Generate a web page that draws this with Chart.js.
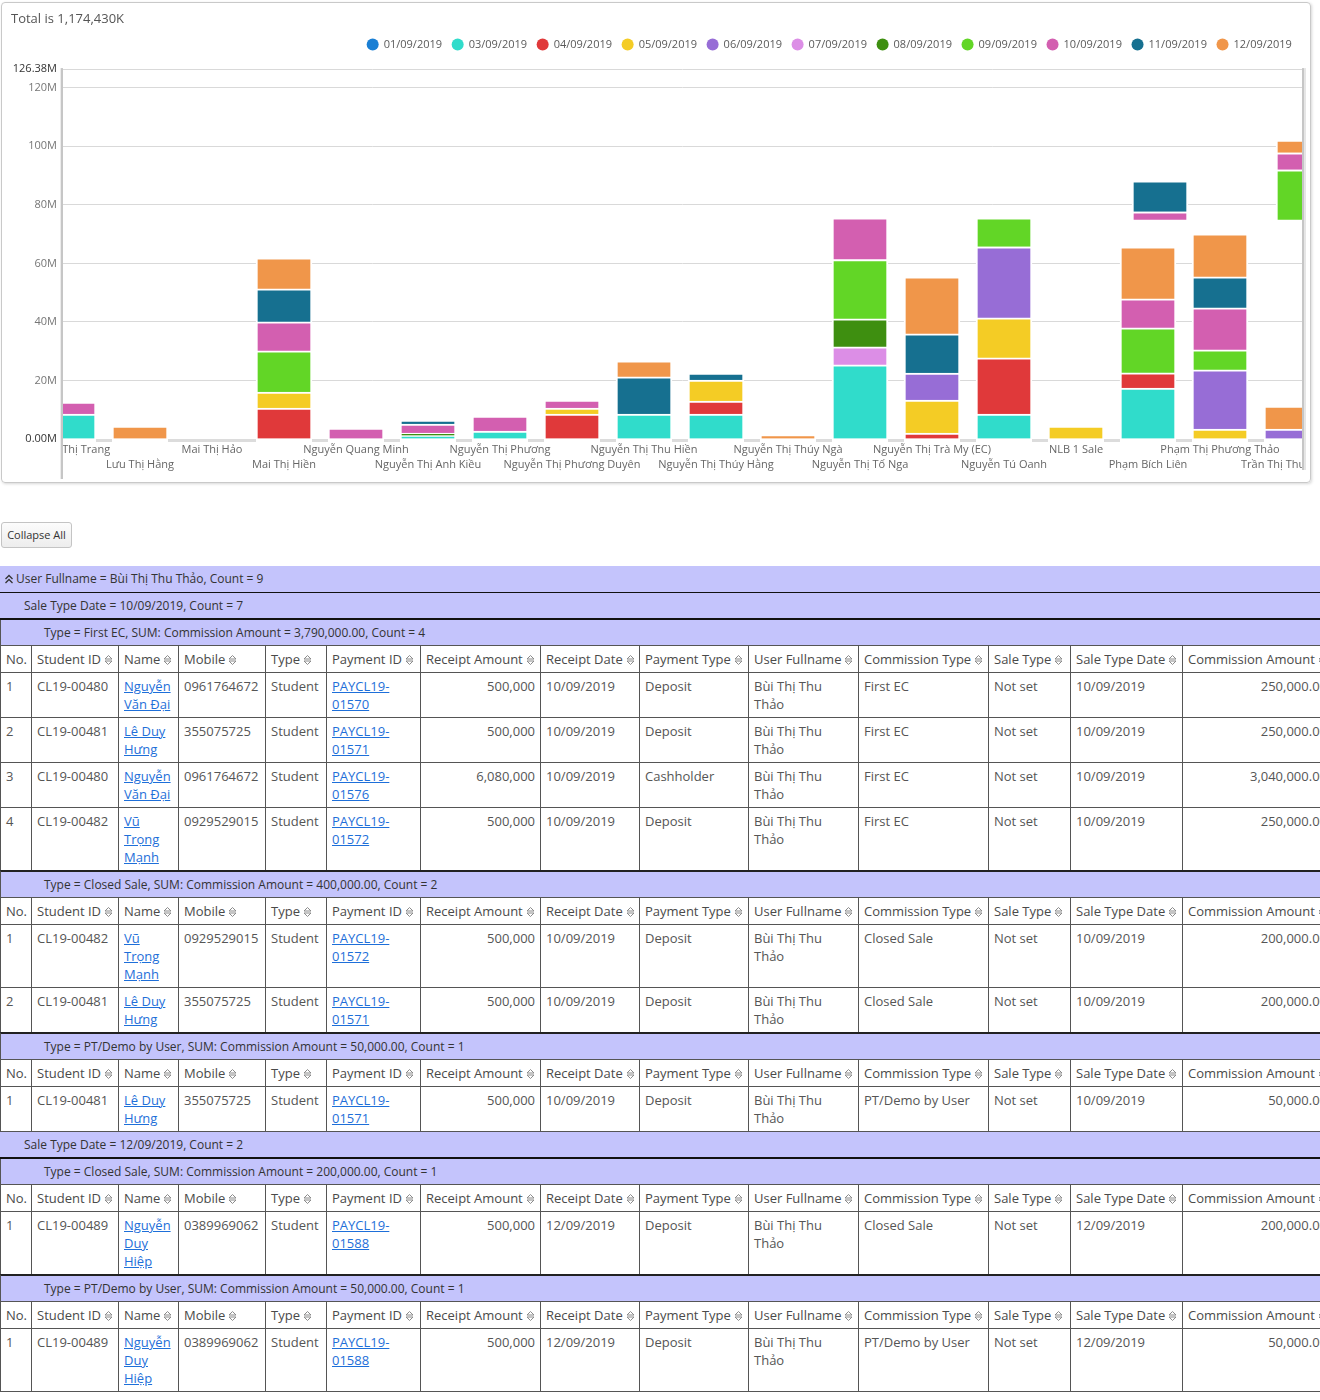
<!DOCTYPE html>
<html>
<head>
<meta charset="utf-8">
<script src="https://cdn.jsdelivr.net/npm/chart.js@4.4.1/dist/chart.umd.min.js"></script>
<style>
html,body{margin:0;padding:0;overflow:hidden;background:#fff}
body{width:1320px;height:1400px;position:relative;font-family:"Open Sans",Arial,sans-serif}
#card{position:absolute;left:1px;top:2px;width:1308px;height:479px;border:1px solid #c9c9c9;border-radius:4px;box-shadow:1px 1px 3px rgba(0,0,0,.16);overflow:hidden}
#card canvas{position:absolute;left:0;top:0}
#btn{position:absolute;left:1px;top:522px;width:69px;height:24px;border:1px solid #c4c4c4;border-radius:3px;background:linear-gradient(#fcfcfc,#ededed);font-size:11px;line-height:24px;color:#333;text-align:center}
#grid{position:absolute;left:0;top:566px;width:1340px}
.gu,.gs,.gt{background:#c4c4fc;color:#333;font-size:12px;white-space:nowrap;box-sizing:border-box}
.gu{height:27px;line-height:26px;border-bottom:1px solid #111;padding-left:4px}
.gs{height:27px;line-height:25px;border-bottom:2px solid #111;padding-left:24px}
.gt{height:25px;line-height:25px;padding-left:43px;border-left:1px solid #555}
.gt.nx{height:27px;line-height:25px;border-top:2px solid #222;margin-top:-1px}
table{border-collapse:collapse;table-layout:fixed;font-size:13px;color:#555}
th,td{border:1px solid #555;padding:4px 5px;line-height:18px;vertical-align:top;text-align:left;overflow:hidden}
th{font-weight:normal;white-space:nowrap;color:#4a4a4a}
td.r{text-align:right;white-space:nowrap}
td a{color:#1e6fd9;text-decoration:underline}
</style>
</head>
<body>
<div id="card"><canvas id="c" width="1308" height="479"></canvas></div>
<div id="btn">Collapse All</div>
<div id="grid"></div>
<script>
// ---------------- chart data ----------------
const categories = [
  'Hoàng Thị Trang', 'Lưu Thị Hằng', 'Mai Thị Hảo', 'Mai Thị Hiền', 'Nguyễn Quang Minh',
  'Nguyễn Thị Anh Kiều', 'Nguyễn Thị Phương', 'Nguyễn Thị Phương Duyên', 'Nguyễn Thị Thu Hiền',
  'Nguyễn Thị Thúy Hằng', 'Nguyễn Thị Thúy Ngà', 'Nguyễn Thị Tố Nga', 'Nguyễn Thị Trà My (EC)',
  'Nguyễn Tú Oanh', 'NLB 1 Sale', 'Phạm Bích Liên', 'Phạm Thị Phương Thảo', 'Trần Thị Thu Hương'
];
const dates = ['01/09/2019','03/09/2019','04/09/2019','05/09/2019','06/09/2019','07/09/2019',
               '08/09/2019','09/09/2019','10/09/2019','11/09/2019','12/09/2019'];
// values in millions
const v0109 = [0,0,0,0,0,0,0,0,0,0,0,0,0,0,0,0,0,0];
const v0309 = [8.55,0,0,0,0,1.13,2.74,0,8.55,8.55,0,25.3,0,8.55,0,17.44,0,0];
const v0409 = [0,0,0,10.6,0,0,0,8.55,0,4.44,0,0,2.05,19.15,0,5.13,0,0];
const v0509 = [0,0,0,5.47,0,0,0,2.05,0,7.18,0,0,11.28,13.68,4.44,0,3.42,0];
const v0609 = [0,0,0,0,0,0,0,0,0,0,0,0,9.23,24.27,0,0,20.17,3.42];
const v0709 = [0,0,0,0,0,0,0,0,0,0,0,6.15,0,0,0,0,0,0];
const v0809 = [0,0,0,0,0,0.92,0,0,0,0,0,9.57,0,0,0,0,0,0];
const v0909 = [0,0,0,14.02,0,0,0,0,0,0,0,20.27,0,9.91,0,15.38,6.84,0];
const v1009 = [4.1,0,0,9.91,3.76,3.08,5.13,2.74,0,0,0,14.26,0,0,0,9.91,14.36,0];
const v1109 = [0,0,0,11.28,0,1.37,0,0,12.65,2.39,0,0,13.33,0,0,0,10.6,0];
const v1209 = [0,4.44,0,10.6,0,0,0,0,5.47,0,1.4,0,19.49,0,0,17.78,14.7,7.86];
const seriesValues = [v0109,v0309,v0409,v0509,v0609,v0709,v0809,v0909,v1009,v1109,v1209];
// stray floating segments seen in the picture (drawn slightly offset)
const ghostBase = [0,0,0,0,0,0,0,0,0,0,0,0,0,0,0,74.87,0,74.87];
const ghost0909 = [0,0,0,0,0,0,0,0,0,0,0,0,0,0,0,0,0,17.1];
const ghost1009 = [0,0,0,0,0,0,0,0,0,0,0,0,0,0,0,2.74,0,5.8];
const ghost1109 = [0,0,0,0,0,0,0,0,0,0,0,0,0,0,0,10.6,0,0];
const ghost1209 = [0,0,0,0,0,0,0,0,0,0,0,0,0,0,0,0,0,4.4];
const yTicks = [0,20,40,60,80,100,120,126.38];
const yMax = 126.38;
const totalText = 'Total is 1,174,430K';

// ---------------- styles ----------------
const colors = ['#1a7fd4','#30dccb','#e0393a','#f4cc25','#976dd6','#dc8ee6','#3e8f10','#62d626','#d35fb0','#167090','#f0964a'];
const viewMin = -0.0694, viewMax = 17.139, ghostShift = 1/6, barThick = 56;

const nz = a => a.map(v => v ? v : null);
const mainSets = dates.map((d, k) => ({
  label: d, data: nz(seriesValues[k]), backgroundColor: colors[k], borderColor: '#fff',
  borderWidth: 2, borderSkipped: 'start', barThickness: barThick, grouped: false,
  xAxisID: 'x', yAxisID: 'y', stack: 'main', clip: 0
}));
const ghostDefs = [[ghostBase,'rgba(0,0,0,0)',0],[ghost0909,colors[7],2],[ghost1009,colors[8],2],[ghost1109,colors[9],2],[ghost1209,colors[10],2]];
const ghostSets = ghostDefs.map(([arr, col, bw], k) => ({
  label: 'g' + k, data: nz(arr), backgroundColor: col, borderColor: '#fff', borderWidth: bw,
  borderSkipped: 'start', barThickness: barThick, grouped: false,
  xAxisID: 'x2', yAxisID: 'y', stack: 'ghost', clip: 0
}));

const clipLabels = {
  id: 'clipLabels',
  afterLayout(chart) {
    const s = chart.scales.x;
    if (s.__clipped) return;
    s.__clipped = true;
    const proto = Object.getPrototypeOf(s);
    s.drawLabels = function (area) {
      const a = chart.chartArea, ctx = this.ctx;
      ctx.save();
      ctx.beginPath();
      ctx.rect(a.left, this.top, a.right - a.left, this.bottom - this.top + 5);
      ctx.clip();
      proto.drawLabels.call(this, area);
      ctx.restore();
    };
  }
};
const paneDecor = {
  id: 'paneDecor',
  afterDatasetsDraw(chart) {
    const {ctx, chartArea: a} = chart;
    const xs = chart.scales.x;
    ctx.save();
    ctx.beginPath(); ctx.rect(a.left, a.bottom, a.right - a.left, 3); ctx.clip();
    ctx.fillStyle = '#dcdcdc';
    ctx.fillRect(a.left, a.bottom, a.right - a.left, 3);
    ctx.fillStyle = '#fff';
    categories.forEach((c, i) => {
      const tot = seriesValues.reduce((s, arr) => s + (arr[i] || 0), 0);
      if (tot > 0) { const px = xs.getPixelForValue(i); ctx.fillRect(px - barThick / 2, a.bottom, barThick, 3); }
    });
    ctx.restore();
  },
  afterDraw(chart) {
    const {ctx, chartArea: a} = chart;
    ctx.save();
    ctx.fillStyle = '#ececec'; ctx.fillRect(a.left - 3, a.top - 1, 1, 477 - a.top);
    ctx.fillStyle = '#c6c6c6'; ctx.fillRect(a.left - 2, a.top - 1, 2, 477 - a.top);
    ctx.fillStyle = '#c6c6c6'; ctx.fillRect(a.right, a.top - 1, 2, 468 - a.top);
    ctx.fillStyle = '#e6e6e6'; ctx.fillRect(a.right + 2, a.top - 1, 2, 468 - a.top);
    ctx.restore();
  }
};

Chart.defaults.font.family = "'Open Sans', sans-serif";
new Chart(document.getElementById('c'), {
  type: 'bar',
  data: { labels: categories.map((_, i) => i), datasets: [...mainSets, ...ghostSets] },
  options: {
    responsive: false, animation: false, events: [],
    layout: { padding: { left: 9, right: 8, top: 0, bottom: 0 } },
    scales: {
      x: {
        type: 'linear', min: viewMin, max: viewMax, stacked: true, offset: false,
        afterBuildTicks: s => { s.ticks = categories.map((_, i) => ({ value: i })); },
        afterFit: s => { s.height = 43; s.paddingLeft = 0; s.paddingRight = 0; },
        grid: { display: false, drawTicks: false }, border: { display: false },
        ticks: {
          autoSkip: false, maxRotation: 0, minRotation: 0, padding: 3, color: '#666',
          font: { size: 11, lineHeight: 15 / 11 },
          callback: v => { const i = Math.round(v); const n = categories[i]; if (n === undefined) return ''; return i % 2 === 0 ? n : ['', n]; }
        }
      },
      x2: { type: 'linear', display: false, min: viewMin - ghostShift, max: viewMax - ghostShift, stacked: true, offset: false },
      y: {
        type: 'linear', min: 0, max: yMax, stacked: true,
        afterBuildTicks: s => { s.ticks = yTicks.map(v => ({ value: v })); },
        afterFit: s => { s.width = 52; },
        grid: { drawTicks: false, color: c => (c.tick && c.tick.value === 0) ? 'rgba(0,0,0,0)' : '#d9d9d9' },
        border: { display: false },
        ticks: {
          autoSkip: false, padding: 6, font: { size: 11 },
          color: c => (c.tick.value === 0 || c.tick.value === yMax) ? '#333' : '#767676',
          callback: v => v === 0 ? '0.00M' : (v === yMax ? v.toFixed(2) + 'M' : v + 'M')
        }
      }
    },
    plugins: {
      tooltip: { enabled: false },
      title: { display: true, text: totalText, align: 'start', color: '#555', font: { size: 13, weight: 'normal' }, padding: { top: 8.2, bottom: 2.2 } },
      legend: {
        position: 'top', align: 'end',
        labels: {
          usePointStyle: true, pointStyle: 'circle', boxWidth: 11, boxHeight: 8.5, padding: 10.1,
          color: '#5a5a5a', font: { size: 11 },
          generateLabels: ch => Chart.defaults.plugins.legend.labels.generateLabels(ch).map(l => Object.assign(l, { lineWidth: 0 })),
          filter: item => item.datasetIndex < dates.length
        }
      },
      subtitle: { display: true, text: ' ', position: 'top', weight: 500, font: { size: 5, lineHeight: 1 }, padding: { top: 4, bottom: 0 } }
    }
  },
  plugins: [clipLabels, paneDecor]
});

// ---------------- grid (table) below the chart ----------------
const headers = ['No.','Student ID','Name','Mobile','Type','Payment ID','Receipt Amount','Receipt Date','Payment Type','User Fullname','Commission Type','Sale Type','Sale Type Date','Commission Amount'];
const colW = [31,87,60,87,61,94,120,99,109,110,130,82,112,150];
const U = 'Bùi Thị Thu Thảo';
const groups = [
  { level: 'u', text: 'User Fullname = Bùi Thị Thu Thảo, Count = 9' },
  { level: 's', text: 'Sale Type Date = 10/09/2019, Count = 7' },
  { level: 't', text: 'Type = First EC, SUM: Commission Amount = 3,790,000.00, Count = 4', rows: [
    ['1','CL19-00480','Nguyễn Văn Đại','0961764672','Student','PAYCL19-01570','500,000','10/09/2019','Deposit',U,'First EC','Not set','10/09/2019','250,000.00'],
    ['2','CL19-00481','Lê Duy Hưng','355075725','Student','PAYCL19-01571','500,000','10/09/2019','Deposit',U,'First EC','Not set','10/09/2019','250,000.00'],
    ['3','CL19-00480','Nguyễn Văn Đại','0961764672','Student','PAYCL19-01576','6,080,000','10/09/2019','Cashholder',U,'First EC','Not set','10/09/2019','3,040,000.00'],
    ['4','CL19-00482','Vũ Trọng Mạnh','0929529015','Student','PAYCL19-01572','500,000','10/09/2019','Deposit',U,'First EC','Not set','10/09/2019','250,000.00']]},
  { level: 't', text: 'Type = Closed Sale, SUM: Commission Amount = 400,000.00, Count = 2', rows: [
    ['1','CL19-00482','Vũ Trọng Mạnh','0929529015','Student','PAYCL19-01572','500,000','10/09/2019','Deposit',U,'Closed Sale','Not set','10/09/2019','200,000.00'],
    ['2','CL19-00481','Lê Duy Hưng','355075725','Student','PAYCL19-01571','500,000','10/09/2019','Deposit',U,'Closed Sale','Not set','10/09/2019','200,000.00']]},
  { level: 't', text: 'Type = PT/Demo by User, SUM: Commission Amount = 50,000.00, Count = 1', rows: [
    ['1','CL19-00481','Lê Duy Hưng','355075725','Student','PAYCL19-01571','500,000','10/09/2019','Deposit',U,'PT/Demo by User','Not set','10/09/2019','50,000.00']]},
  { level: 's', text: 'Sale Type Date = 12/09/2019, Count = 2' },
  { level: 't', text: 'Type = Closed Sale, SUM: Commission Amount = 200,000.00, Count = 1', rows: [
    ['1','CL19-00489','Nguyễn Duy Hiệp','0389969062','Student','PAYCL19-01588','500,000','12/09/2019','Deposit',U,'Closed Sale','Not set','12/09/2019','200,000.00']]},
  { level: 't', text: 'Type = PT/Demo by User, SUM: Commission Amount = 50,000.00, Count = 1', rows: [
    ['1','CL19-00489','Nguyễn Duy Hiệp','0389969062','Student','PAYCL19-01588','500,000','12/09/2019','Deposit',U,'PT/Demo by User','Not set','12/09/2019','50,000.00']]}
];
const sortIcon = '<svg width="9" height="12" viewBox="0 0 9 12" style="margin-left:3px;vertical-align:-2px"><path d="M1 5 L4.5 1.5 L8 5 Z M1 7 L4.5 10.5 L8 7 Z" fill="none" stroke="#8a8a8a" stroke-width="1"/></svg>';
const upIcon = '<svg width="10" height="10" viewBox="0 0 10 10" style="vertical-align:-1px;margin-right:2px"><path d="M1.5 5 L5 1.5 L8.5 5 M1.5 9 L5 5.5 L8.5 9" fill="none" stroke="#333" stroke-width="1.3"/></svg>';
function tableHtml(rows) {
  let h = '<table style="width:' + colW.reduce((a, b) => a + b, 0) + 'px"><colgroup>' +
    colW.map(w => '<col style="width:' + w + 'px">').join('') + '</colgroup><tr>' +
    headers.map((t, j) => '<th>' + t + (j ? sortIcon : '') + '</th>').join('') + '</tr>';
  rows.forEach(r => {
    h += '<tr>' + r.map((c, j) => {
      if (j === 2 || j === 5) return '<td><a>' + c + '</a></td>';
      if (j === 6 || j === 13) return '<td class="r">' + c + '</td>';
      return '<td>' + c + '</td>';
    }).join('') + '</tr>';
  });
  return h + '</table>';
}
let html = '', prevTable = false;
groups.forEach(g => {
  if (g.level === 'u') html += '<div class="gu">' + upIcon + g.text + '</div>';
  else if (g.level === 's') html += '<div class="gs">' + g.text + '</div>';
  else html += '<div class="gt' + (prevTable ? ' nx' : '') + '">' + g.text + '</div>';
  if (g.rows) { html += tableHtml(g.rows); prevTable = true; } else prevTable = false;
});
document.getElementById('grid').innerHTML = html;
</script>
</body>
</html>
